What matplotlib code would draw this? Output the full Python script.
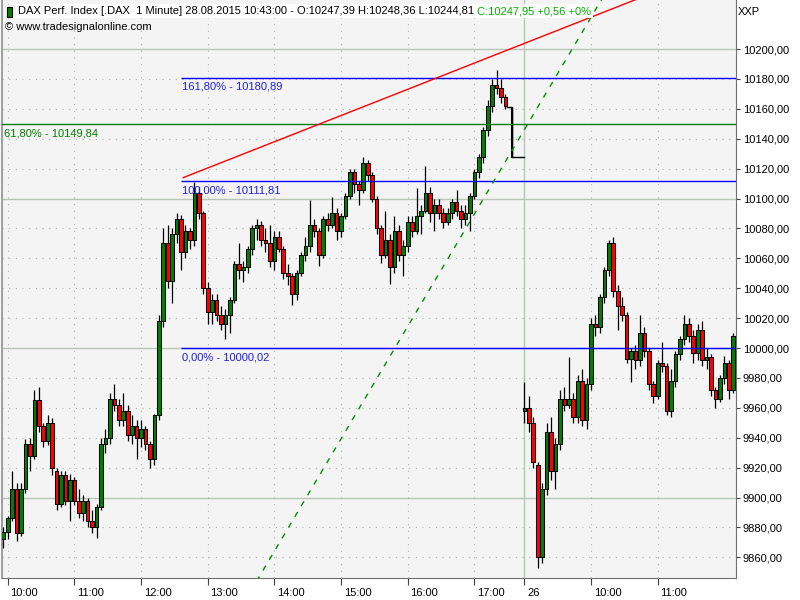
import matplotlib
matplotlib.use("Agg")
import matplotlib.pyplot as plt
import matplotlib.transforms as mtransforms
from matplotlib.patches import Rectangle
import numpy as np

plt.rcParams['font.family'] = ['Liberation Sans', 'DejaVu Sans']

# ---- data: 4-minute OHLC, time = minutes after 10:00 (day 1) ----
# day 1, first bar at 09:56
d1_open = [9872, 9877, 9886, 9906, 9876, 9906, 9936, 9928, 9965, 9948,
           9938, 9950, 9918, 9896, 9915, 9898, 9912, 9898, 9890, 9898,
           9884, 9880, 9894, 9936, 9940, 9966, 9962, 9952, 9958, 9942,
           9948, 9940, 9946, 9936, 9926, 9955, 10018, 10070, 10045, 10076,
           10086, 10064, 10078, 10072, 10104, 10090, 10040, 10024, 10032, 10022,
           10016, 10022, 10032, 10056, 10052, 10054, 10066, 10080, 10082, 10072,
           10070, 10058, 10074, 10066, 10050, 10048, 10036, 10050, 10062, 10068,
           10082, 10078, 10062, 10086, 10082, 10090, 10078, 10088, 10102, 10118,
           10110, 10106, 10124, 10116, 10100, 10080, 10062, 10072, 10054, 10078,
           10062, 10068, 10084, 10078, 10088, 10092, 10104, 10090, 10096, 10090,
           10084, 10090, 10098, 10092, 10086, 10090, 10102, 10118, 10128, 10146,
           10162, 10176, 10174, 10168]
d1_high = [9880, 9888, 9918, 9910, 9910, 9939, 9940, 9972, 9974, 9950,
           9955, 9953, 9920, 9918, 9918, 9916, 9914, 9906, 9902, 9900,
           9892, 9896, 9940, 9946, 9970, 9976, 9966, 9970, 9962, 9955,
           9952, 9952, 9948, 9938, 9956, 10022, 10080, 10082, 10080, 10090,
           10089, 10082, 10080, 10111, 10108, 10092, 10044, 10036, 10036, 10028,
           10026, 10034, 10058, 10070, 10058, 10068, 10082, 10086, 10085, 10080,
           10082, 10078, 10078, 10068, 10056, 10050, 10052, 10064, 10074, 10099,
           10086, 10080, 10088, 10090, 10101, 10094, 10090, 10104, 10120, 10120,
           10112, 10128, 10126, 10118, 10102, 10082, 10092, 10076, 10088, 10082,
           10072, 10088, 10088, 10107, 10096, 10122, 10108, 10100, 10100, 10094,
           10094, 10100, 10106, 10096, 10096, 10104, 10120, 10130, 10148, 10166,
           10180, 10186, 10180, 10170]
d1_low = [9866, 9872, 9884, 9871, 9874, 9903, 9918, 9926, 9944, 9934,
          9935, 9915, 9892, 9894, 9895, 9884, 9895, 9886, 9884, 9880,
          9876, 9873, 9892, 9930, 9936, 9958, 9948, 9948, 9938, 9936,
          9926, 9934, 9932, 9920, 9922, 9952, 10014, 10040, 10030, 10070,
          10052, 10060, 10066, 10068, 10086, 10036, 10016, 10016, 10018, 10012,
          10006, 10010, 10030, 10046, 10044, 10050, 10062, 10072, 10068, 10064,
          10054, 10052, 10064, 10046, 10042, 10029, 10032, 10048, 10058, 10064,
          10074, 10055, 10060, 10078, 10080, 10072, 10074, 10086, 10100, 10104,
          10096, 10104, 10112, 10098, 10076, 10057, 10060, 10043, 10050, 10058,
          10048, 10064, 10074, 10076, 10076, 10090, 10084, 10078, 10086, 10080,
          10082, 10086, 10088, 10080, 10082, 10078, 10100, 10114, 10124, 10142,
          10158, 10170, 10164, 10160]
d1_close = [9877, 9886, 9906, 9876, 9906, 9936, 9928, 9965, 9948, 9938,
            9950, 9920, 9896, 9915, 9898, 9912, 9898, 9890, 9898, 9884,
            9880, 9894, 9936, 9940, 9966, 9962, 9952, 9958, 9942, 9948,
            9940, 9946, 9936, 9926, 9955, 10018, 10070, 10045, 10076, 10086,
            10064, 10078, 10072, 10104, 10090, 10040, 10024, 10032, 10022, 10016,
            10022, 10032, 10056, 10052, 10054, 10066, 10080, 10082, 10072, 10070,
            10058, 10074, 10066, 10050, 10048, 10036, 10050, 10062, 10068, 10082,
            10078, 10062, 10086, 10082, 10090, 10078, 10088, 10102, 10118, 10110,
            10106, 10124, 10116, 10100, 10080, 10062, 10072, 10054, 10078, 10062,
            10068, 10084, 10078, 10088, 10092, 10104, 10090, 10096, 10090, 10084,
            10090, 10098, 10092, 10086, 10090, 10102, 10118, 10128, 10146, 10162,
            10176, 10174, 10168, 10162]
d1_start = -4

# closing auction step after 17:30
post_t = [449, 453.5, 464.5]
post_p = [10161, 10128, 10128]

# day 2 (26), first bar at 09:00 -> t = 465
d2_open = [9958, 9960, 9950, 9922, 9860, 9906, 9944, 9918, 9936, 9966,
           9962, 9966, 9954, 9978, 9952, 9976, 10016, 10014, 10034, 10052,
           10070, 10038, 10028, 10022, 9993, 9998, 9992, 10010, 9998, 9976,
           9968, 9990, 9988, 9958, 9978, 9996, 10006, 10016, 10008, 9997,
           10012, 9992, 9994, 9972, 9966, 9980, 9990, 9972, 10008]
d2_high = [9977, 9968, 9954, 9924, 9910, 9950, 9954, 9940, 9972, 9974,
           9994, 9970, 9982, 9986, 9980, 10020, 10022, 10036, 10054, 10072,
           10074, 10042, 10034, 10024, 10000, 10002, 10022, 10014, 10000, 9978,
           9992, 10004, 9990, 9986, 9998, 10008, 10022, 10020, 10012, 10016,
           10018, 10000, 9996, 9974, 9982, 9995, 9992, 10010, 10010]
d2_low = [9950, 9944, 9920, 9853, 9856, 9902, 9912, 9906, 9932, 9958,
          9960, 9950, 9950, 9948, 9946, 9972, 10008, 10010, 10030, 10048,
          10034, 10012, 10018, 9990, 9977, 9986, 9988, 9994, 9972, 9963,
          9966, 9984, 9955, 9954, 9974, 9992, 10002, 10004, 9990, 9992,
          9988, 9986, 9968, 9960, 9964, 9976, 9966, 9970, 10002]
d2_close = [9960, 9950, 9924, 9860, 9906, 9944, 9918, 9936, 9966, 9962,
            9966, 9954, 9978, 9952, 9976, 10016, 10014, 10034, 10052, 10070,
            10038, 10028, 10022, 9993, 9998, 9992, 10010, 9998, 9976, 9968,
            9990, 9988, 9958, 9978, 9996, 10006, 10016, 10008, 9997, 10012,
            9992, 9994, 9972, 9966, 9980, 9990, 9972, 10008, 10004]
d2_start = 465
bar_minutes = 4

# fibonacci levels and trend lines
fib_levels = [10180.89, 10111.81, 10000.02]
fib_labels = ['161,80% - 10180,89', '100,00% - 10111,81', '0,00% - 10000,02']
fib_start = 156
green_level = 10149.84
green_label = '61,80% - 10149,84'
red_line_t = [158, 565]
red_line_p = [10114, 10233]
dash_line_t = [224, 536]
dash_line_p = [9844, 10235]

y_ticks = [9860, 9880, 9900, 9920, 9940, 9960, 9980, 10000, 10020, 10040,
           10060, 10080, 10100, 10120, 10140, 10160, 10180, 10200]
x_ticks = [0, 60, 120, 180, 240, 300, 360, 420, 465, 525, 585]
x_labels = ['10:00', '11:00', '12:00', '13:00', '14:00', '15:00', '16:00',
            '17:00', '26', '10:00', '11:00']

header = 'DAX Perf. Index [.DAX  1 Minute] 28.08.2015 10:43:00 - O:10247,39 H:10248,36 L:10244,81'
header_green = 'C:10247,95 +0,56 +0%'


def draw_candles(ax, t, o, h, l, c, width):
    o, h, l, c = map(np.asarray, (o, h, l, c))
    ax.vlines(t, l, h, color='black', lw=0.9, zorder=3)
    colors = np.where(c >= o, '#008000', '#ff0000')
    bottoms = np.minimum(o, c)
    heights = np.maximum(np.abs(c - o), 0.7)
    ax.bar(t, heights, width, bottom=bottoms, color=colors,
           edgecolor='black', linewidth=0.75, zorder=4)


fig = plt.figure(figsize=(8, 6), dpi=100)
ax = fig.add_axes([2 / 800, 22 / 600, 734 / 800, 578 / 600])
ax.set_facecolor('#f4f4f4')
ax.set_xlim(-5.1, 655.5)
ax.set_ylim(9846.2, 10232.8)

# grid
for yv in y_ticks:
    if yv % 100 == 0:
        ax.axhline(yv, color='#b8c6b8', lw=1, zorder=1)
    else:
        ax.axhline(yv, color='#a8b4a8', lw=0.8, ls=(0, (1, 5)), zorder=1)
for xv in x_ticks:
    if xv == 465:
        ax.axvline(xv, color='#b8c6b8', lw=1, zorder=1)
    else:
        ax.axvline(xv, color='#a8b4a8', lw=0.8, ls=(0, (1, 5)), zorder=1)

t1 = d1_start + bar_minutes * np.arange(len(d1_close))
t2 = d2_start + bar_minutes * np.arange(len(d2_close))
draw_candles(ax, t1, d1_open, d1_high, d1_low, d1_close, 3.3)
draw_candles(ax, t2, d2_open, d2_high, d2_low, d2_close, 3.3)
ax.plot(post_t, post_p, color='black', lw=1, drawstyle='steps-post', zorder=3)
draw_candles(ax, [post_t[1]], [post_p[0]], [post_p[0]], [post_p[1]], [post_p[1]], 1.6)

# fib levels
xmax = ax.get_xlim()[1]
for lev, lab in zip(fib_levels, fib_labels):
    ax.hlines(lev, fib_start, xmax, color='#0000ff', lw=1, zorder=5)
    ax.annotate(lab, xy=(fib_start, lev), xytext=(1, -3), textcoords='offset points',
                va='top', ha='left', color='#2020e0', fontsize=8, zorder=6)
ax.axhline(green_level, color='#008000', lw=1, zorder=5)
ax.annotate(green_label, xy=(ax.get_xlim()[0], green_level), xytext=(1.5, -3),
            textcoords='offset points', va='top', ha='left', color='#008000',
            fontsize=8, zorder=6)

ax.plot(red_line_t, red_line_p, color='#ff0000', lw=1, zorder=5)
ax.plot(dash_line_t, dash_line_p, color='#009000', lw=1, ls=(0, (4, 5)), zorder=5)

# axes
ax.spines['top'].set_visible(False)
ax.spines['left'].set_color('#a0a0a0')
ax.spines['left'].set_linewidth(1.5)
ax.spines['right'].set_color('#707070')
ax.spines['bottom'].set_color('#707070')

ax.yaxis.tick_right()
ax.set_yticks(y_ticks)
ax.set_yticklabels([f'{v:.2f}'.replace('.', ',') for v in y_ticks])
ax.tick_params(axis='y', direction='out', length=3, pad=2, labelsize=8,
               color='#404040')
ax.set_xticks(x_ticks)
ax.set_xticklabels(x_labels)
ax.tick_params(axis='x', direction='out', length=5, pad=2, labelsize=8,
               color='#404040')
offset = mtransforms.ScaledTranslation(2 / 72, 0, fig.dpi_scale_trans)
for lbl in ax.get_xticklabels():
    lbl.set_ha('left')
    lbl.set_transform(lbl.get_transform() + offset)

# header
fig.patches.append(Rectangle((7 / 800, 1 - 17 / 600), 5 / 800, 10 / 600,
                             transform=fig.transFigure, facecolor='#008000',
                             edgecolor='black', lw=0.8, zorder=10))
ht = fig.text(18 / 800, 1 - 11 / 600, header, va='center', ha='left', fontsize=8,
              color='black', zorder=10,
              bbox=dict(boxstyle='square,pad=0.15', fc='white', ec='none'))
ax.annotate(header_green, xy=(1, 0.5), xycoords=ht, xytext=(2, 0),
            textcoords='offset points', va='center', ha='left',
            fontsize=8, color='#00b000', annotation_clip=False, zorder=10,
            bbox=dict(boxstyle='square,pad=0.15', fc='white', ec='none'))
fig.text(5 / 800, 1 - 27 / 600, '\u00a9 www.tradesignalonline.com', va='center',
         ha='left', fontsize=8, color='black')
fig.text(738 / 800, 1 - 12 / 600, 'XXP', va='center', ha='left', fontsize=8)

fig.savefig('out.png', dpi=100)
